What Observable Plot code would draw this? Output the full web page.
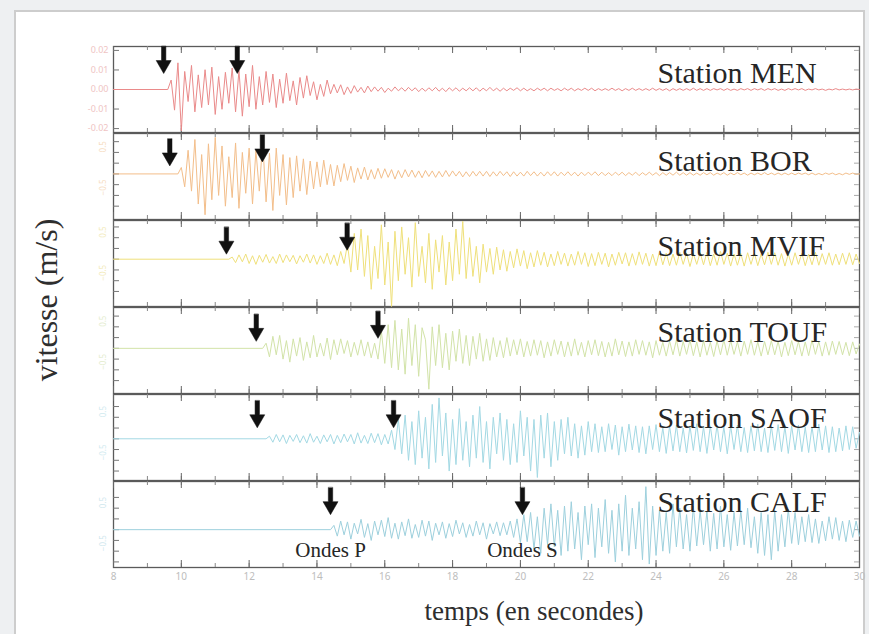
<!DOCTYPE html>
<html><head><meta charset="utf-8">
<script src="https://cdn.jsdelivr.net/npm/d3@7"></script>
<script src="https://cdn.jsdelivr.net/npm/@observablehq/plot@0.6"></script>
<style>
body{margin:0;background:#eef0f2;}
#wrap{position:relative;width:869px;height:634px;overflow:hidden;font-family:"Liberation Serif","Times New Roman",serif;}
#card{position:absolute;left:14px;top:10px;width:851px;height:640px;background:#fff;border:2px solid #cdcdcd;box-sizing:border-box;}
.panel{position:absolute;left:0;}
#ylab{position:absolute;left:46px;top:300px;transform:translate(-50%,-50%) rotate(-90deg);font-size:32px;color:#2e2e2e;white-space:nowrap;}
#xlab{position:absolute;left:534px;top:611px;transform:translate(-50%,-50%);font-size:27px;color:#2e2e2e;white-space:nowrap;}
</style></head><body>
<div id="wrap"><div id="card"></div><div id="ylab">vitesse (m/s)</div><div id="xlab">temps (en secondes)</div></div>
<script>
// ---------------- DATA ----------------
const stations = ["MEN", "BOR", "MVIF", "TOUF", "SAOF", "CALF"];
const onsets = [9.6, 9.9, 11.4, 12.4, 12.5, 14.4];          // start of recorded motion (s)
const pArrivals = [9.48, 9.66, 11.33, 12.21, 12.24, 14.4];   // P-wave arrows (s)
const sArrivals = [11.65, 12.39, 14.89, 15.8, 16.26, 20.06]; // S-wave arrows (s)
const sampleStep = 0.1;
const timeTicks = [8, 10, 12, 14, 16, 18, 20, 22, 24, 26, 28, 30];
const menTicks = [-0.02, -0.01, 0, 0.01, 0.02];
const menTickLabels = ["-0.02", "-0.01", "0.00", "0.01", "0.02"];
const waveLabels = ["Ondes P", "Ondes S"];

// amplitudes in hundredths of each panel's half-range, one value every 0.1 s from onset
const men = [
  0,22,-48,62,-96,42,-28,56,-52,34,
  -42,46,-36,52,-58,30,-46,40,-32,50,
  -52,44,-62,36,-40,56,-46,30,-36,42,
  -30,36,-42,24,-32,38,-26,20,-36,28,
  -20,32,-14,18,-24,12,-16,22,-10,12,
  -8,11,-12,6,-9,9,-6,5,-8,8,
  -5,6,-4,5,-7,3,-4,6,-3,4,
  -4,5,-3,4,-5,3,-4,4,-3,5,
  -4,3,-5,4,-3,4,-4,3,-3,4,
  -3,4,-4,3,-3,5,-3,3,-4,3,
  -3,3,-2,4,-3,3,-3,2,-3,3,
  -2,3,-3,3,-2,2,-3,3,-2,3,
  -3,2,-2,3,-2,3,-3,2,-2,2,
  -2,3,-2,2,-3,2,-2,3,-2,2,
  -2,2,-2,3,-2,2,-2,2,-3,2,
  -2,2,-2,2,-2,3,-2,2,-2,2,
  -2,2,-1,2,-2,2,-2,1,-2,2,
  -1,2,-2,2,-1,2,-2,2,-1,2,
  -2,1,-2,2,-1,2,-1,2,-2,1,
  -1,2,-1,1,-2,1,-1,2,-1,1,
  -1,1,-1,1,0
];
const bor = [
  0,15,-30,55,-40,80,-70,45,-95,70,
  -60,85,-50,65,-75,40,-55,72,-80,50,
  -45,60,-70,55,-40,75,-65,48,-85,60,
  -50,45,-72,38,-55,42,-40,35,-48,30,
  -35,28,-30,32,-25,22,-28,20,-18,24,
  -15,18,-20,14,-12,16,-14,10,-12,13,
  -10,12,-8,10,-12,8,-9,10,-7,9,
  -8,7,-9,8,-6,7,-8,6,-7,8,
  -6,7,-5,6,-7,5,-6,6,-5,6,
  -5,6,-6,5,-5,6,-4,5,-6,5,
  -5,4,-5,6,-4,5,-5,4,-5,5,
  -4,5,-5,4,-4,5,-4,4,-5,4,
  -4,4,-3,5,-4,4,-4,3,-4,4,
  -3,4,-4,3,-3,4,-4,3,-3,4,
  -3,3,-4,3,-3,3,-3,4,-3,3,
  -3,3,-3,2,-3,3,-2,3,-3,2,
  -2,3,-3,2,-2,3,-2,2,-3,2,
  -2,2,-2,3,-2,2,-2,2,-2,2,
  -2,2,-2,2,-1,2,-2,2,-2,1,
  -2,2,-1,2,-2,1,-2,2,-1,2,
  -1,0
];
const mvif = [
  0,5,-8,10,-6,12,-10,8,-12,9,
  -7,11,-9,6,-10,12,-8,10,-6,9,
  -11,8,-7,12,-9,10,-12,8,-10,14,
  -12,10,-15,18,-10,35,-30,60,-25,70,
  -40,55,-70,30,-45,80,-60,40,-110,65,
  -50,75,-35,50,-65,85,-40,30,-55,60,
  -70,45,-30,55,-60,40,-50,70,-35,88,
  -45,50,-40,30,-55,35,-30,25,-35,28,
  -25,22,-28,18,-20,24,-16,20,-22,15,
  -18,20,-14,16,-18,12,-15,18,-12,14,
  -16,12,-14,18,-12,15,-17,13,-15,16,
  -12,14,-18,12,-14,16,-11,15,-16,13,
  -14,17,-12,14,-16,12,-15,18,-13,14,
  -15,12,-14,16,-12,14,-17,13,-12,15,
  -13,16,-15,12,-14,18,-12,14,-16,12,
  -14,13,-16,15,-12,14,-15,12,-13,16,
  -12,15,-14,13,-16,12,-14,15,-12,14,
  -15,12,-13,16,-14,13,-12,15,-14,12,
  -13,14,-12,15,-13,12,-10
];
const touf = [
  0,12,-20,28,-15,30,-25,18,-32,22,
  -18,25,-28,15,-22,30,-20,12,-18,24,
  -26,20,-15,22,-12,18,-20,14,-16,20,
  -18,15,-22,12,-25,40,-35,55,-45,65,
  -50,45,-60,70,-40,55,-65,48,20,-95,
  50,-40,55,-45,35,-50,40,-30,45,-35,
  30,-40,28,-25,35,-30,22,-28,25,-20,
  18,-22,25,-18,20,-15,22,-20,16,-18,
  20,-16,18,-22,15,-18,20,-14,17,-20,
  15,-18,22,-16,14,-20,18,-15,20,-17,
  16,-20,14,-18,22,-15,17,-19,15,-18,
  20,-14,18,-16,15,-22,18,-16,14,-18,
  17,-15,20,-18,16,-14,19,-17,15,-20,
  18,-16,14,-19,17,-15,20,-16,18,-14,
  15,-18,17,-14,20,-16,15,-18,16,-15,
  18,-15,16,-20,14,-17,18,-15,16,-18,
  15,-17,19,-14,16,-18,15,-16,17,-14,
  16,-15,14,-17,15,-13,10
];
const saof = [
  0,6,-8,10,-7,9,-11,8,-6,10,
  -9,7,-10,12,-8,6,-11,9,-7,10,
  -12,8,-9,11,-7,10,-12,14,-10,8,
  -11,13,-9,12,-14,10,-12,20,-25,45,
  -35,55,-50,40,-60,65,-45,50,-70,80,
  -55,95,-40,60,-75,45,-60,70,-50,40,
  -65,55,-45,75,-55,40,-70,50,-35,60,
  -50,45,-60,35,-55,65,-40,50,-75,45,
  -90,55,-45,60,-65,40,-50,45,-35,50,
  -40,35,-45,30,-38,40,-30,35,-32,28,
  -30,35,-25,32,-38,28,-30,34,-26,30,
  -32,28,-35,30,-25,33,-30,26,-34,30,
  -28,32,-30,25,-33,30,-27,35,-30,28,
  -34,30,-26,32,-30,28,-35,30,-25,32,
  -30,26,-32,30,-28,34,-30,25,-32,30,
  -27,33,-30,28,-34,30,-26,32,-30,27,
  -32,28,-30,34,-26,30,-32,28,-30,25,
  -28,30,-25,28,-22,15
];
const calf = [
  0,10,-15,20,-12,18,-22,15,-10,24,
  -18,14,-25,20,-12,22,-16,28,-20,15,
  -22,18,-14,25,-20,12,-18,22,-15,20,
  -25,15,-12,18,-20,14,-16,22,-10,16,
  -18,12,-15,20,-12,16,-22,14,-10,18,
  -14,16,-12,20,-18,25,-30,35,-28,40,
  -45,30,-55,50,-35,60,-40,45,-60,55,
  -50,65,-45,40,-70,55,-35,60,-65,50,
  -40,70,-55,45,-75,60,-50,80,-60,50,
  -45,65,-70,100,-80,55,-60,45,-50,40,
  -55,60,-40,50,-45,35,-50,55,-38,45,
  -35,42,-50,38,-45,55,-40,35,-48,40,
  -38,45,-35,50,-42,30,-55,40,-60,35,
  -70,45,-50,35,-40,48,-32,40,-35,30,
  -28,35,-30,25,-32,20,-26,30,-22,28,
  -25,20,-28,22,-18,20,-15
];
const traces = [men, bor, mvif, touf, saof, calf];

// ---------------- STYLE / LAYOUT ----------------
const colors = ["#ea8a8a", "#f3be8a", "#efe07a", "#d2e3a8", "#a3d9e4", "#9dd0dd"];
const labelColors = ["#efc4c4", "#f6dcc0", "#f2eab8", "#e3eccd", "#d0eaef", "#cfe7ee"];
const ampScale = [0.022, 1, 1, 1, 1, 1];
const domains = [[-1, 1], [-1.06, 0.94], [-1.1, 0.9], [-1.05, 0.95], [-0.97, 1.03], [-0.88, 1.12]];
const arrowGapP = [16, 8, 5, 7, 11, 15];
const arrowGapS = [16, 12, 9, 10, 11, 15];
const labelDy = [27, 28, 26, 25, 24, 21];
const panelTop = 45, panelStep = 87, panelH = 88;
const mL = 113, mR = 10;
const W = 869;
const innerW = W - mL - mR;

const arrowShape = {
  draw(ctx, l) {
    const hw = 7.5, hl = 13, sw = 2.2;
    ctx.moveTo(-sw, 0);
    ctx.lineTo(-sw, -(l - hl));
    ctx.lineTo(-hw, -(l - hl));
    ctx.lineTo(0, -l);
    ctx.lineTo(hw, -(l - hl));
    ctx.lineTo(sw, -(l - hl));
    ctx.lineTo(sw, 0);
    ctx.closePath();
  }
};

const wrap = document.getElementById("wrap");
const secTicks = d3.range(8, 30.001, 1);

stations.forEach((name, i) => {
  const last = i === stations.length - 1;
  const mB = last ? 27 : 1, mT = 1;
  const h = panelH + (last ? 26 : 0);
  const innerH = h - mT - mB;
  const s = ampScale[i];
  const dom = [domains[i][0] * s, domains[i][1] * s];
  const data = [{t: 8, v: 0}].concat(traces[i].map((a, k) => ({t: onsets[i] + k * sampleStep, v: a / 100 * s})));
  const yTicks = i === 0 ? menTicks : d3.range(-0.75, 0.76, 0.25);
  const marks = [
    Plot.frame({stroke: "#5a5a5a", strokeWidth: 1.3}),
    // inward x ticks (bottom & top)
    Plot.tickX(secTicks, {x: d => d, insetTop: innerH - 4, stroke: "#888"}),
    Plot.tickX(timeTicks, {x: d => d, insetTop: innerH - 7, stroke: "#666"}),
    Plot.tickX(secTicks, {x: d => d, insetBottom: innerH - 4, stroke: "#888"}),
    Plot.tickX(timeTicks, {x: d => d, insetBottom: innerH - 7, stroke: "#666"}),
    // inward y ticks (left & right)
    Plot.tickY(yTicks, {y: d => d * (i === 0 ? 1 : s), insetRight: innerW - 6, stroke: "#777"}),
    Plot.tickY(yTicks, {y: d => d * (i === 0 ? 1 : s), insetLeft: innerW - 5, stroke: "#aaa"}),
    Plot.line(data, {x: "t", y: "v", stroke: colors[i], strokeWidth: 1}),
    Plot.vector([pArrivals[i]], {x: d => d, y: 0, length: 27, rotate: 180, anchor: "end", shape: arrowShape, fill: "#111", stroke: "#111", strokeWidth: 0.5, dy: -arrowGapP[i]}),
    Plot.vector([sArrivals[i]], {x: d => d, y: 0, length: 27, rotate: 180, anchor: "end", shape: arrowShape, fill: "#111", stroke: "#111", strokeWidth: 0.5, dy: -arrowGapS[i]}),
    Plot.text(["Station " + name], {frameAnchor: "top-left", dx: 544, dy: labelDy[i], textAnchor: "start", lineAnchor: "middle", fontSize: 30, fill: "#262626", fontFamily: "Liberation Serif"})
  ];
  if (i === 0) {
    marks.push(Plot.text(menTicks, {y: d => d, text: (d, k) => menTickLabels[k], frameAnchor: "left", dx: -5, textAnchor: "end", fontSize: 9, fill: labelColors[0]}));
  } else {
    marks.push(Plot.text([-0.5, 0.5], {y: d => d, text: d => d3.format(".1f")(d), frameAnchor: "left", dx: -10, rotate: -90, fontSize: 8, fill: labelColors[i]}));
  }
  if (last) {
    marks.push(Plot.text(timeTicks, {x: d => d, text: d => String(d), frameAnchor: "bottom", dy: 12, fontSize: 10, fill: "#bdbdbd"}));
    marks.push(Plot.text([pArrivals[i], sArrivals[i]], {x: d => d, y: 0, text: (d, k) => waveLabels[k], dy: 21, fontSize: 21, fill: "#262626", fontFamily: "Liberation Serif"}));
  }
  const chart = Plot.plot({
    width: W, height: h,
    marginLeft: mL, marginRight: mR, marginTop: mT, marginBottom: mB,
    x: {domain: [8, 30], axis: null},
    y: {domain: dom, axis: null},
    style: {background: "transparent", overflow: "visible"},
    marks
  });
  chart.classList.add("panel");
  chart.style.top = (panelTop + i * panelStep) + "px";
  wrap.appendChild(chart);
});
</script>
</body></html>
